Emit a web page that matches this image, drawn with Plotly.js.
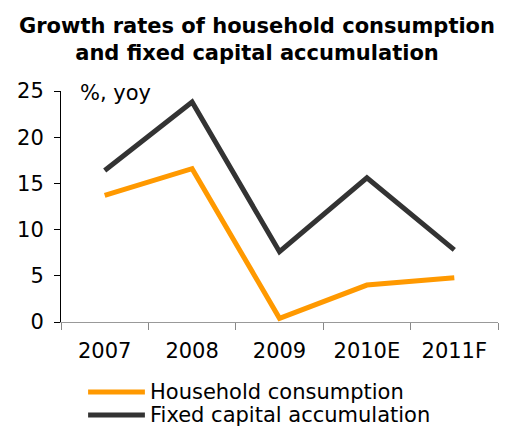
<!DOCTYPE html>
<html>
<head>
<meta charset="utf-8">
<script src="https://cdn.plot.ly/plotly-3.0.1.min.js"></script>
<style>html,body{margin:0;padding:0;background:#fff;}#chart{width:514px;height:427px;}</style>
</head>
<body>
<div id="chart"></div>
<script>
const years = ["2007", "2008", "2009", "2010E", "2011F"];
const householdConsumption = [13.7, 16.6, 0.4, 4.0, 4.8];
const fixedCapital = [16.4, 23.8, 7.6, 15.6, 7.8];
const yTicks = [0, 5, 10, 15, 20, 25];
const seriesNames = ["Household consumption", "Fixed capital accumulation"];
const seriesColors = ["#FF9900", "#333333"];

const FONT = "DejaVu Sans, Verdana, sans-serif";
const FS = 21;

const traces = [
  {x: years, y: householdConsumption, type: "scatter", mode: "lines",
   name: seriesNames[0], line: {color: seriesColors[0], width: 5}, showlegend: false},
  {x: years, y: fixedCapital, type: "scatter", mode: "lines",
   name: seriesNames[1], line: {color: seriesColors[1], width: 5}, showlegend: false}
];

// custom legend (long line samples as in the reference)
const legendRows = [-0.303, -0.403];
const shapes = seriesNames.map((n, i) => ({
  type: "line", xref: "paper", yref: "paper", x0: 0.062, x1: 0.192,
  y0: legendRows[i], y1: legendRows[i], line: {color: seriesColors[i], width: 5}
}));
const legendText = seriesNames.map((n, i) => ({
  text: n, xref: "paper", yref: "paper", x: 0.199, y: legendRows[i],
  xanchor: "left", yanchor: "middle", showarrow: false,
  font: {family: FONT, size: FS, color: "#000"}
}));

const layout = {
  width: 514, height: 427,
  margin: {l: 61, r: 16, t: 91, b: 105},
  paper_bgcolor: "#fff", plot_bgcolor: "#fff",
  font: {family: FONT, size: FS, color: "#000"},
  title: {text: "<b>Growth rates of household consumption<br>and fixed capital accumulation</b>",
          font: {family: FONT, size: FS, color: "#000"}, x: 0.5, xanchor: "center",
          yref: "container", y: 0.923, yanchor: "middle"},
  xaxis: {type: "category", range: [-0.5, 4.5], tickson: "boundaries", ticks: "outside", ticklen: 7,
          tickcolor: "#888", linecolor: "#999", showline: true, showgrid: false, zeroline: false,
          ticklabelstandoff: 10, automargin: false,
          tickfont: {family: FONT, size: FS, color: "#000"}},
  yaxis: {range: [0, 25], tickvals: yTicks, ticks: "outside", ticklen: 6, tickcolor: "#000",
          linecolor: "#000", showline: true, showgrid: false, zeroline: false,
          ticklabelstandoff: 6, automargin: false,
          tickfont: {family: FONT, size: FS, color: "#000"}},
  showlegend: false,
  shapes: shapes,
  annotations: [{text: "%, yoy", xref: "paper", yref: "paper", x: 0.039, y: 0.991,
                 xanchor: "left", yanchor: "middle", showarrow: false,
                 font: {family: FONT, size: FS, color: "#000"}}].concat(legendText)
};

Plotly.newPlot("chart", traces, layout, {displayModeBar: false, staticPlot: true});
</script>
</body>
</html>
